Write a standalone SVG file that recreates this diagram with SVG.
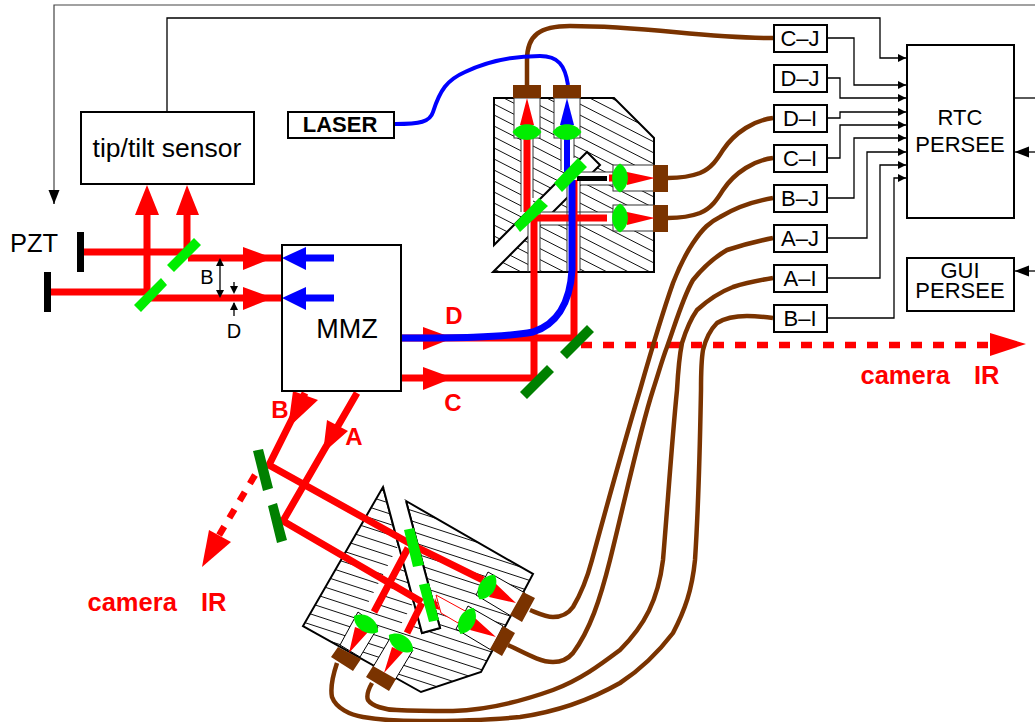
<svg xmlns="http://www.w3.org/2000/svg" width="1035" height="722" viewBox="0 0 1035 722">
<style>
text{font-family:"Liberation Sans",Arial,sans-serif;fill:#000;text-anchor:middle}
.t22{font-size:22px}
.rl{font-size:24px;font-weight:bold;fill:#f00;white-space:pre}
.cam{font-size:25.5px;word-spacing:5px}
.box{fill:#fff;stroke:#000;stroke-width:2}
.wire{fill:none;stroke:#000;stroke-width:1.3;marker-end:url(#ah)}
.beam{fill:none;stroke:#f00;stroke-width:7}
.blue{fill:none;stroke:#00f;stroke-width:7}
.cable{fill:none;stroke:#7a3300;stroke-width:4.5}
.r{fill:#f00}.b{fill:#00f}.g{fill:#0e0}.dg{fill:#008000}.br{fill:#7a3300}
.w{fill:#fff;stroke:#333;stroke-width:1}
.cut{fill:#fff}
.hatch{fill:none;stroke:#111;stroke-width:1}
</style>
<defs>
<marker id="ah" markerUnits="userSpaceOnUse" markerWidth="9" markerHeight="9" refX="8" refY="4" orient="auto"><path d="M0 0L8 4L0 8Z" fill="#000"/></marker>
<marker id="ahb" markerUnits="userSpaceOnUse" markerWidth="15" markerHeight="12" refX="14" refY="5.5" orient="auto"><path d="M0 0L14 5.5L0 11Z" fill="#000"/></marker>
<clipPath id="c1"><path d="M494 98H614L654 138V272H493L600 165L587 152L494 245Z"/></clipPath>
<clipPath id="c2"><path d="M383 487L422 633L440 628L406 501L533 574L481 672L421 692L303 626Z"/></clipPath>
<path id="lens" d="M-14.5 0C-8 -10.5 8 -10.5 14.5 0C8 10.5 -8 10.5 -14.5 0Z" fill="#0e0"/>
</defs>

<g id="connectors">
<path d="M54 190V5H1035" fill="none" stroke="#444" stroke-width="1.2"/>
<path d="M54 190V204" class="wire" style="marker-end:url(#ahb)"/>
<path class="wire" d="M167 112V18H880V58H906"/>
<path class="wire" d="M828 38H854V85H906"/>
<path class="wire" d="M828 78H840V98H906"/>
<path class="wire" d="M828 118H840V112H906"/>
<path class="wire" d="M828 158H840V125H906"/>
<path class="wire" d="M828 198H854V138H906"/>
<path class="wire" d="M828 238H867V152H906"/>
<path class="wire" d="M828 278H880V165H906"/>
<path class="wire" d="M828 318H894V178H906"/>
<path d="M1015 98H1035" fill="none" stroke="#000" stroke-width="1.3"/>
<path d="M1035 152H1015" class="wire" style="marker-end:url(#ahb)"/>
<path d="M1035 271H1015" class="wire" style="marker-end:url(#ahb)"/>
</g>

<g id="upper-bench">
<path clip-path="url(#c1)" class="hatch" d="M494 16l160 82M494 27l160 82M494 38l160 82M494 49l160 82M494 60l160 82M494 71l160 82M494 82l160 82M494 93l160 82M494 104l160 82M494 115l160 82M494 126l160 82M494 137l160 82M494 148l160 82M494 159l160 82M494 170l160 82M494 181l160 82M494 192l160 82M494 203l160 82M494 214l160 82M494 225l160 82M494 236l160 82M494 247l160 82M494 258l160 82M494 269l160 82"/>
<path d="M494 98H614L654 138V272H493L600 165L587 152L494 245Z" fill="none" stroke="#000" stroke-width="2"/>
<path class="cut" d="M521 138H533V210H521ZM561 138H574V170H561ZM528 222H540V271H528ZM567 185H580V271H567ZM533 212H613V225H533ZM577 172H613V185H577Z"/>
<path d="M521 138V212M533 138V198M561 138V170M574 138V158M528 222V272M540 212V272M567 186V272M580 178V272M580 172H613M580 185H613M540 212H613M540 225H613" fill="none" stroke="#333" stroke-width="1"/>
<rect class="w" x="514" y="98" width="26" height="40"/>
<rect class="w" x="554" y="98" width="26" height="40"/>
<rect class="w" x="613" y="165" width="41" height="26"/>
<rect class="w" x="613" y="205" width="41" height="26"/>
</g>

<g id="lower-bench">
<path clip-path="url(#c2)" class="hatch" d="M303 412l230 75M303 422.500l230 75M303 433l230 75M303 443.500l230 75M303 454l230 75M303 464.500l230 75M303 475l230 75M303 485.500l230 75M303 496l230 75M303 506.500l230 75M303 517l230 75M303 527.500l230 75M303 538l230 75M303 548.500l230 75M303 559l230 75M303 569.500l230 75M303 580l230 75M303 590.500l230 75M303 601l230 75M303 611.500l230 75M303 622l230 75M303 632.500l230 75M303 643l230 75M303 653.500l230 75M303 664l230 75M303 674.500l230 75M303 685l230 75"/>
<path d="M383 487L422 633L440 628L406 501L533 574L481 672L421 692L303 626Z" fill="none" stroke="#000" stroke-width="2"/>
<path class="cut" d="M358 612L378 627L360 657L340 645ZM392 635L413 650L395 680L373 667ZM488 572L476 595L511 616L525 593ZM468 606L456 629L491 650L503 626Z"/>
<path d="M358 612L378 627L360 657L340 645ZM392 635L413 650L395 680L373 667ZM488 572L476 595L511 616L525 593ZM468 606L456 629L491 650L503 626Z" fill="none" stroke="#000" stroke-width="1"/>
<path class="cut" d="M366 607L376 613L408 552L398 546ZM399 628L409 634L430 594L421 589Z"/>
<path d="M436 595L467 612L458 623L441 613Z" fill="#fff" stroke="#f00" stroke-width="1"/>
<path class="cut" d="M383 487L406 501L440 628L422 633Z"/>
<path d="M383 487L422 633L440 628L406 501" fill="none" stroke="#000" stroke-width="2"/>
</g>

<g id="beams">
<path class="beam" d="M84 252H187V207M51 292H147V207M188 258H281M150 298H281"/>
<path class="r" d="M135 215L159 215L147 185ZM176 215L199 215L187 185ZM243 247L243 270L273 258ZM243 287L243 310L273 298Z"/>
<path class="blue" d="M306 258H334M306 298H334"/>
<path class="b" d="M282 258L306 247L306 270ZM282 298L306 287L306 310Z"/>

<path class="beam" d="M402 338H574V180M402 378H534V218H607M527 138V212M609 178H614"/>
<path class="r" d="M423 327V350L453 338ZM423 367V390L453 378Z"/>
<path fill="none" stroke="#f00" stroke-width="6.5" stroke-dasharray="11 11" d="M581 345H992"/>
<path class="r" d="M990 333V356L1026 344Z"/>
<path class="blue" d="M402 338C450 338 500 338 533 332C555 325 570 305 572 270V180"/>
<path fill="none" stroke="#00f" stroke-width="6" d="M567 138V172"/>
<path d="M577 176H607V181H577Z" fill="#000"/>

<path class="beam" d="M305 393L269 465L418 548L483 580M357 393L283 521L422 602"/>
<path class="beam" d="M408 548L374 612M422 603L407 633"/>
<path class="r" d="M435 598L440 610L433 608Z"/>
<path class="r" d="M293 391L318 400L288 428ZM327 420L348 431L323 453Z"/>
<path fill="none" stroke="#f00" stroke-width="6.5" stroke-dasharray="10 10" d="M255 475L218 537"/>
<path class="r" d="M209 530L231 542L202 567Z"/>
</g>

<g id="mirrors">
<path class="g" d="M167 265L174 272L201 245L194 238ZM134 305L141 312L167 285L161 278Z"/>
<path d="M77 232H84V272H77ZM44 272H51V312H44Z" fill="#000"/>
<path class="dg" d="M587 325L594 332L567 359L560 352ZM547 365L554 372L527 399L520 392ZM253 451L263 449L273 488L263 491ZM268 506L277 503L287 540L277 543Z"/>
<path class="g" d="M578 158L587 167L562 192L554 183ZM539 198L548 206L520 232L514 224ZM404 530L414 528L424 565L413 567ZM419 585L429 583L439 620L429 622Z"/>
</g>

<g id="cables">
<path class="cable" d="M527 85V60C527 35 540 26 570 26C650 26 700 38 773 38"/>
<path class="cable" d="M668 178C680 178 692 176 700 173C712 168 718 158 723 150C735 132 755 120 773 118"/>
<path class="cable" d="M668 218C680 218 692 216 700 213C712 208 718 198 723 190C735 172 755 160 773 158"/>
<path class="cable" d="M530 610C540 614 546 617 553 617C562 617 568 614 573 607C582 592 588 575 592 560C607 505 625 440 640 390C650 355 660 320 673 283C680 265 685 255 693 243C703 228 710 222 720 217C738 206 755 201 773 198"/>
<path class="cable" d="M508 645C525 653 540 662 553 662C562 662 568 659 573 653C590 630 600 600 610 560C625 500 640 430 653 390C658 375 662 360 667 347C675 325 683 297 693 280C705 265 715 257 727 250C742 245 758 241 773 238"/>
<path class="cable" d="M372 683C368 690 366 695 368 700C372 706 385 710 397 710C415 711 435 711 453 711C490 710 525 700 553 690C580 680 600 665 620 650C645 625 658 600 663 560C668 500 672 440 677 390C678 372 679 358 682 343C686 330 690 320 697 310C708 300 720 292 733 287C745 283 760 280 773 278"/>
<path class="cable" d="M337 663C333 675 330 687 332 697C336 708 350 715 363 717C380 720 400 721 420 721C455 721 490 720 520 717C555 712 590 700 620 683C640 670 660 650 673 633C685 610 692 590 695 560C699 500 700 440 701 390C701 375 701 362 703 350C706 338 710 330 717 323C725 318 735 316 747 316C755 316 765 317 773 318"/>
<path fill="none" stroke="#00f" stroke-width="4" d="M395 124C420 124 430 122 433 112C440 90 447 80 465 72C490 60 515 56 540 56C558 56 565 65 568 85"/>
</g>

<g id="fibers-optics">
<path class="br" d="M513 85H541V98H513ZM553 85H581V98H553ZM653 165H668V192H653ZM653 205H668V232H653Z"/>
<path class="r" d="M527 98L520 125H534ZM627 172V185L655 178ZM627 212V225L655 218Z"/>
<path class="b" d="M567 98L560 125H574Z"/>
<use href="#lens" transform="translate(527 132)"/>
<use href="#lens" transform="translate(567 132)"/>
<use href="#lens" transform="translate(620 178) rotate(90)"/>
<use href="#lens" transform="translate(620 218) rotate(90)"/>
<path class="br" d="M523 592L535 598L522 622L510 615ZM503 626L515 633L502 656L490 649ZM338 647L361 659L353 671L331 657ZM373 666L396 679L389 691L366 677Z"/>
<path class="r" d="M349 653L355 627L368 632ZM384 673L392 647L403 652ZM516 603L495 583L489 597ZM496 637L475 618L470 630Z"/>
<use href="#lens" transform="translate(366 624) rotate(33)"/>
<use href="#lens" transform="translate(401 643) rotate(33)"/>
<use href="#lens" transform="translate(487 587) rotate(-58)"/>
<use href="#lens" transform="translate(467 621) rotate(-63)"/>
</g>

<g id="tip-tilt"><rect class="box" x="81" y="112" width="173" height="72"/><text x="167" y="157" font-size="26.5">tip/tilt sensor</text></g>
<g id="laser"><rect class="box" x="288" y="112" width="106" height="26"/><text x="340" y="132" class="t22" font-weight="bold">LASER</text></g>
<g id="mmz"><path d="M282 391V245H401V391H282Z" fill="none" stroke="#000" stroke-width="2"/><text x="347" y="338" font-size="27">MMZ</text></g>
<g id="pzt"><text x="34" y="252" font-size="25.5">PZT</text></g>

<g id="dims">
<path d="M220 262V294" stroke="#000" stroke-width="1.3" fill="none"/>
<path d="M220 258L216 266H224ZM220 298L216 290H224Z" fill="#000"/>
<path d="M234 282V291M234 303V316" stroke="#000" stroke-width="1.3" fill="none"/>
<path d="M234 294L230 286H238ZM234 302L230 310H238Z" fill="#000"/>
<text x="207" y="284" font-size="20">B</text>
<text x="234" y="338" font-size="20">D</text>
</g>

<g id="rtc"><rect class="box" x="907" y="45" width="107" height="173"/><text x="960" y="125" class="t22">RTC</text><text x="960" y="152" class="t22">PERSEE</text></g>
<g id="gui"><rect class="box" x="907" y="258" width="107" height="53"/><text x="960" y="278" class="t22">GUI</text><text x="960" y="298" class="t22">PERSEE</text></g>
<g id="cj"><rect class="box" x="774" y="25" width="53" height="27"/><text x="800" y="46" class="t22">C–J</text></g>
<g id="dj"><rect class="box" x="774" y="65" width="53" height="27"/><text x="800" y="86" class="t22">D–J</text></g>
<g id="di"><rect class="box" x="774" y="105" width="53" height="27"/><text x="800" y="126" class="t22">D–I</text></g>
<g id="ci"><rect class="box" x="774" y="145" width="53" height="27"/><text x="800" y="166" class="t22">C–I</text></g>
<g id="bj"><rect class="box" x="774" y="185" width="53" height="27"/><text x="800" y="206" class="t22">B–J</text></g>
<g id="aj"><rect class="box" x="774" y="225" width="53" height="27"/><text x="800" y="246" class="t22">A–J</text></g>
<g id="ai"><rect class="box" x="774" y="265" width="53" height="27"/><text x="800" y="286" class="t22">A–I</text></g>
<g id="bi"><rect class="box" x="774" y="305" width="53" height="27"/><text x="800" y="326" class="t22">B–I</text></g>

<g id="labels">
<text x="454" y="324" class="rl">D</text>
<text x="453" y="411" class="rl">C</text>
<text x="280" y="418" class="rl">B</text>
<text x="354" y="445" class="rl">A</text>
<text x="930" y="384" class="rl cam">camera  IR</text>
<text x="157" y="611" class="rl cam">camera  IR</text>
</g>
</svg>
